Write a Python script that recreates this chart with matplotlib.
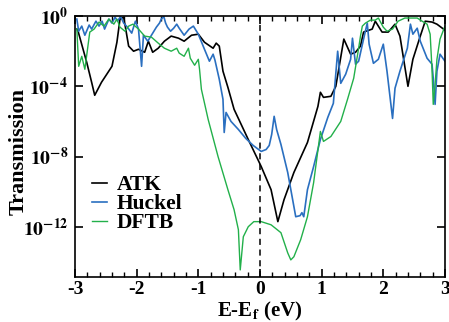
import numpy as np
import matplotlib
matplotlib.use("Agg")
import matplotlib.pyplot as plt
from matplotlib.ticker import FixedLocator, MultipleLocator, NullLocator

plt.rcParams['font.family'] = 'Liberation Serif'
plt.rcParams['font.weight'] = 'bold'
plt.rcParams['mathtext.fontset'] = 'stix'
plt.rcParams['mathtext.default'] = 'bf'

# energy (eV) and log10(transmission)
atk_e = [-2.97, -2.95, -2.81, -2.73, -2.68, -2.57, -2.40, -2.32, -2.27, -2.21,
         -2.13, -2.05, -1.97, -1.87, -1.81, -1.74, -1.65, -1.55, -1.44, -1.32,
         -1.23, -1.11, -1.00, -0.90, -0.76, -0.71, -0.66, -0.60, -0.52, -0.42,
         -0.19, 0.02, 0.18, 0.29, 0.39, 0.55, 0.77, 0.94, 0.98, 1.03, 1.15,
         1.23, 1.36, 1.47, 1.55, 1.63, 1.68, 1.82, 1.87, 1.98, 2.08, 2.19,
         2.27, 2.40, 2.48, 2.60, 2.68, 2.79, 2.87, 3.00]
atk_log = [-0.74, -0.86, -2.63, -3.77, -4.51, -3.77, -2.86, -1.49, -0.17, -0.06,
           -1.71, -2.00, -1.89, -2.06, -1.43, -2.06, -1.83, -1.43, -1.14, -1.26,
           -1.43, -1.09, -1.03, -1.49, -1.83, -1.54, -1.71, -3.14, -4.06, -5.31,
           -7.03, -8.57, -9.89, -11.71, -10.46, -8.91, -7.20, -5.14, -4.34, -4.63, -4.57,
           -4.00, -1.31, -2.17, -2.06, -1.71, -0.91, -0.74, -0.29, -0.91, -0.91, -0.46,
           -1.14, -4.00, -2.46, -1.14, -0.29, -0.34, -0.46, -0.80]

huckel_e = [-2.97, -2.94, -2.89, -2.84, -2.77, -2.73, -2.66, -2.61, -2.56, -2.52,
            -2.45, -2.40, -2.35, -2.31, -2.26, -2.21, -2.15, -2.08, -2.02, -1.97,
            -1.92, -1.89, -1.82, -1.76, -1.68, -1.63, -1.60, -1.56, -1.53, -1.50,
            -1.45, -1.40, -1.35, -1.31, -1.23, -1.15, -1.08, -1.00, -0.90, -0.82,
            -0.76, -0.73, -0.66, -0.60, -0.58, -0.55, -0.47, -0.35, -0.23, -0.11,
            0.02, 0.10, 0.15, 0.19, 0.23, 0.27, 0.34, 0.45, 0.53, 0.58, 0.65,
            0.68, 0.71, 0.77, 0.87, 0.98, 1.10, 1.19, 1.26, 1.31, 1.39, 1.47,
            1.50, 1.55, 1.60, 1.68, 1.74, 1.77, 1.84, 1.92, 2.00, 2.06, 2.15,
            2.19, 2.27, 2.39, 2.44, 2.48, 2.55, 2.60, 2.71, 2.79, 2.81, 2.84,
            2.87, 2.92, 3.00]
huckel_log = [-0.17, -0.86, -0.57, -1.09, -0.51, -0.74, -0.29, -0.57, -0.29, -0.74,
              -0.17, -0.40, -0.06, -0.29, -0.02, -0.40, -0.63, -0.97, -0.29, -0.74,
              -2.86, -1.09, -1.43, -1.09, -0.63, -0.40, -0.17, -0.02, -0.40, -0.63,
              -0.86, -0.69, -0.46, -0.69, -1.09, -0.74, -0.57, -1.03, -1.89, -2.57,
              -2.17, -2.51, -3.60, -4.74, -6.63, -5.49, -6.00, -6.46, -6.97, -7.37,
              -7.71, -7.60, -7.37, -6.74, -5.71, -6.46, -7.31, -8.91, -10.46, -11.43, -11.37,
              -11.20, -11.43, -9.89, -8.57, -7.03, -5.77, -4.97, -2.00, -3.83, -3.31, -2.46,
              -1.26, -2.74, -2.57, -1.31, -0.40, -1.60, -2.69, -2.46, -1.60, -3.14, -5.83,
              -4.11, -3.14, -1.83, -0.46, -1.03, -0.69, -1.43, -2.40, -2.74, -3.54, -5.03,
              -3.14, -2.17, -2.57]

dftb_e = [-2.97, -2.94, -2.89, -2.84, -2.76, -2.69, -2.61, -2.53, -2.45, -2.37,
          -2.32, -2.27, -2.19, -2.13, -2.06, -1.97, -1.87, -1.76, -1.65, -1.55,
          -1.44, -1.35, -1.31, -1.23, -1.16, -1.13, -1.06, -1.00, -0.98, -0.95,
          -0.84, -0.68, -0.52, -0.42, -0.35, -0.32, -0.27, -0.19, -0.10, 0.02,
          0.18, 0.34, 0.45, 0.50, 0.55, 0.66, 0.77, 0.87, 0.98, 1.03, 1.15,
          1.31, 1.42, 1.52, 1.60, 1.63, 1.66, 1.71, 1.79, 1.87, 1.92, 2.00,
          2.06, 2.15, 2.24, 2.35, 2.44, 2.55, 2.63, 2.71, 2.76, 2.79, 2.81,
          2.84, 2.87, 2.92, 3.00]
dftb_log = [-0.74, -2.86, -2.29, -3.03, -0.91, -0.74, -0.34, -0.57, -0.17, -0.46,
            -0.17, -0.63, -0.86, -0.57, -0.46, -0.74, -1.14, -1.20, -1.54, -1.83,
            -2.00, -1.83, -2.11, -2.29, -1.83, -2.40, -2.80, -2.46, -3.03, -4.17,
            -5.89, -8.00, -9.89, -11.03, -12.17, -14.46, -12.57, -12.00, -11.71, -11.71,
            -11.89, -12.34, -13.49, -13.89, -13.71, -12.74, -11.43, -9.49, -6.57, -7.14, -6.86,
            -6.00, -4.74, -3.54, -1.83, -1.14, -0.57, -0.40, -0.23, -0.23, -0.11, -0.63,
            -0.86, -0.74, -0.29, -0.11, -0.11, -0.11, -0.29, -0.46, -1.03, -3.03, -5.03,
            -3.89, -2.46, -1.31, -0.57]

fig = plt.figure(figsize=(4.49, 3.22), dpi=100)
ax = fig.add_axes([0.167, 0.140, 0.824, 0.810])

ax.plot(atk_e, 10.0 ** np.array(atk_log), color='black', lw=1.2, label='ATK')
ax.plot(huckel_e, 10.0 ** np.array(huckel_log), color='#2a6fc0', lw=1.2, label='Huckel')
ax.plot(dftb_e, 10.0 ** np.array(dftb_log), color='#22b04a', lw=1.0, label='DFTB')
ax.axvline(0, color='black', ls=(0, (4, 3)), lw=1.1)

ax.set_yscale('log')
ax.set_xlim(-3, 3)
ax.set_ylim(10 ** -14.86, 1.0)
ax.yaxis.set_major_locator(FixedLocator([1e0, 1e-4, 1e-8, 1e-12]))
ax.yaxis.set_minor_locator(NullLocator())
ax.set_yticklabels([r'$\mathbf{10^{0}}$', r'$\mathbf{10^{-4}}$',
                    r'$\mathbf{10^{-8}}$', r'$\mathbf{10^{-12}}$'], fontsize=14)
ax.xaxis.set_major_locator(MultipleLocator(1))
ax.xaxis.set_minor_locator(MultipleLocator(0.2))
ax.tick_params(which='both', direction='in', top=True, right=True, labelsize=14)
ax.tick_params(axis='x', pad=3)
ax.tick_params(axis='y', pad=5)
ax.tick_params(which='major', length=6, width=1.2)
ax.tick_params(which='minor', length=3.5, width=1.0)
for s in ax.spines.values():
    s.set_linewidth(1.2)

ax.set_xticks([-3, -2, -1, 0, 1, 2, 3])
ax.set_xticklabels(['-3', '-2', '-1', '0', '1', '2', '3'], fontweight='bold')
ax.set_xlabel(r'E-E$_\mathbf{f}$ (eV)', fontsize=15, fontweight='bold', labelpad=1)
ax.set_ylabel('Transmission', fontsize=16, fontweight='bold')
ax.yaxis.set_label_coords(-0.125, 0.48)

ax.legend(loc='lower left', bbox_to_anchor=(0.022, 0.135), frameon=False,
          prop={'size': 15.5, 'weight': 'bold'}, handlelength=0.7,
          handletextpad=0.45, labelspacing=-0.05, borderaxespad=0)

fig.savefig('out.png', dpi=100)
